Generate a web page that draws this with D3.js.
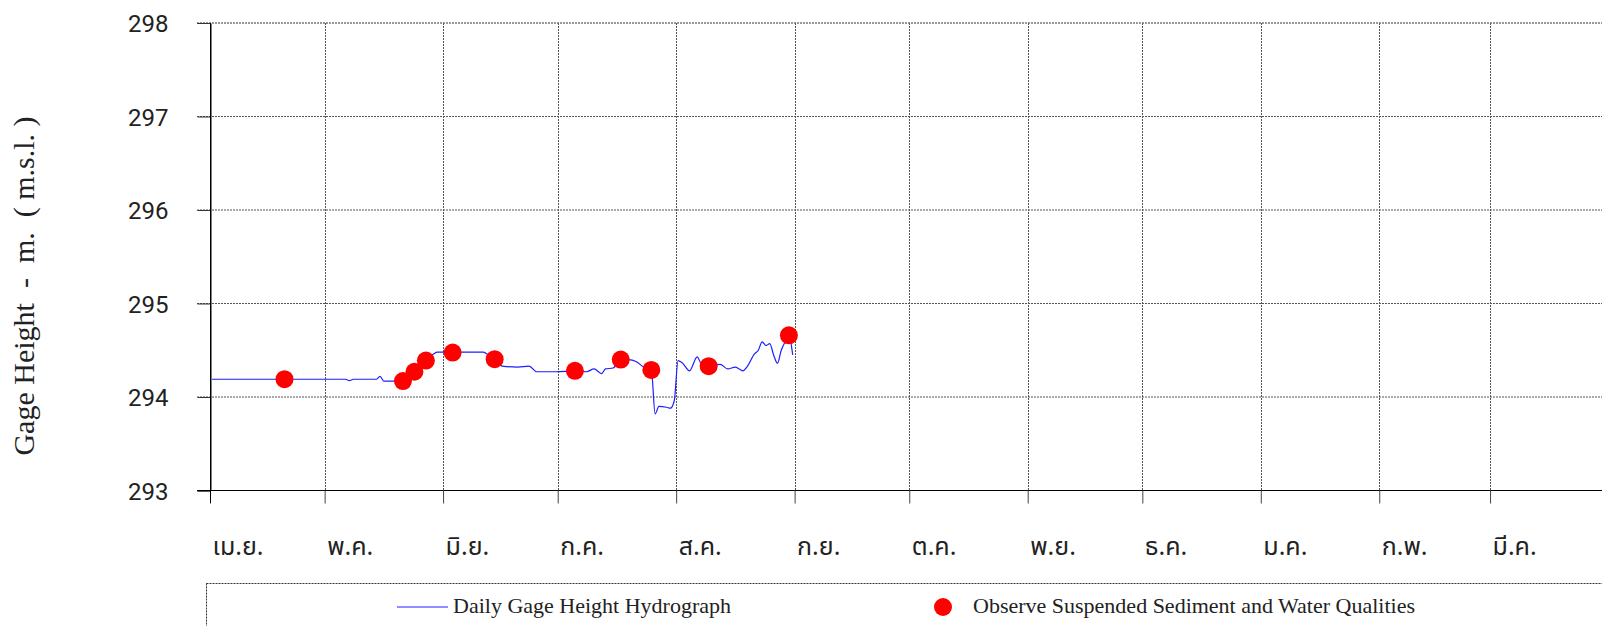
<!DOCTYPE html>
<html>
<head>
<meta charset="utf-8">
<script src="https://cdn.jsdelivr.net/npm/d3@7"></script>
<style>
  body { margin: 0; background: #fff; }
  svg { display: block; }
  .ytick { font-family: Roboto, "Liberation Sans", sans-serif; font-size: 24px; fill: #222; }
  .xtick { font-family: "Noto Sans Thai", "Tahoma", "Noto Sans", sans-serif; font-size: 25px; fill: #222; }
  .serif { font-family: "Liberation Serif", "DejaVu Serif", serif; fill: #222; }
</style>
</head>
<body>
<div class="chart"></div>
<script>
// month labels (hydrological year Apr - Mar)
var monthLabels = ["เม.ย.", "พ.ค.", "มิ.ย.", "ก.ค.", "ส.ค.", "ก.ย.", "ต.ค.", "พ.ย.", "ธ.ค.", "ม.ค.", "ก.พ.", "มี.ค."];
var yTicks = [293, 294, 295, 296, 297, 298];

// daily gage height (m.s.l.)
var lineDates = ["2023-04-01","2023-05-06","2023-05-07","2023-05-08","2023-05-14","2023-05-15","2023-05-16","2023-05-21",
  "2023-05-23","2023-05-24","2023-05-25","2023-05-26","2023-05-27","2023-05-28","2023-05-29","2023-05-30","2023-06-11",
  "2023-06-12","2023-06-14","2023-06-16","2023-06-20","2023-06-23","2023-06-25","2023-06-30","2023-07-05","2023-07-08",
  "2023-07-10","2023-07-12","2023-07-13","2023-07-15","2023-07-17","2023-07-19","2023-07-21","2023-07-23","2023-07-25",
  "2023-07-26","2023-07-27","2023-07-29","2023-07-30","2023-07-31","2023-08-01","2023-08-02","2023-08-04","2023-08-06",
  "2023-08-07","2023-08-09","2023-08-12","2023-08-14","2023-08-16","2023-08-17","2023-08-18","2023-08-19","2023-08-21",
  "2023-08-22","2023-08-23","2023-08-24","2023-08-25","2023-08-26","2023-08-27","2023-08-28","2023-08-29","2023-08-30",
  "2023-08-31"];
var lineValues = [294.19,294.19,294.175,294.19,294.19,294.22,294.17,294.17,
  294.22,294.27,294.31,294.35,294.39,294.43,294.46,294.48,294.48,
  294.46,294.41,294.33,294.32,294.33,294.27,294.27,294.28,294.27,
  294.30,294.25,294.30,294.31,294.40,294.40,294.38,294.32,294.29,
  293.82,293.90,293.89,293.88,293.96,294.39,294.37,294.28,294.43,
  294.36,294.33,294.35,294.30,294.32,294.30,294.28,294.32,294.46,
  294.50,294.59,294.55,294.57,294.45,294.36,294.50,294.59,294.66,
  294.45];

// observed suspended sediment / water quality samples
var dotDates = ["2023-04-20","2023-05-21","2023-05-24","2023-05-27","2023-06-03","2023-06-14","2023-07-05","2023-07-17","2023-07-25","2023-08-09","2023-08-30"];
var dotValues = [294.19,294.17,294.27,294.39,294.475,294.405,294.28,294.40,294.29,294.33,294.66];

var width = 1602, height = 626;
var parse = d3.timeParse("%Y-%m-%d");
var noon = function(s) { return d3.timeHour.offset(parse(s), 12); };

var svg = d3.select(".chart").append("svg")
  .attr("width", width)
  .attr("height", height);

var x = d3.scaleTime()
  .domain([parse("2023-04-01"), parse("2024-04-01")])
  .range([210, 1608.5]);
var y = d3.scaleLinear()
  .domain([293, 298])
  .range([490.5, 23]);

var monthStarts = d3.timeMonth.range(parse("2023-04-01"), parse("2024-04-01"));

/************* grid ***************/
svg.append("g").selectAll("line")
  .data(yTicks.filter(function(d){ return d > 293; }))
  .enter().append("line")
    .attr("x1", 197).attr("x2", width)
    .attr("y1", d => y(d)).attr("y2", d => y(d))
    .attr("stroke", d => d == 298 ? "#333" : "#555")
    .attr("stroke-dasharray", "2,1");

svg.append("g").selectAll("line")
  .data(monthStarts.slice(1))
  .enter().append("line")
    .attr("x1", d => Math.round(x(d)) + 0.5).attr("x2", d => Math.round(x(d)) + 0.5)
    .attr("y1", y(298)).attr("y2", y(293))
    .attr("stroke", "#555")
    .attr("stroke-dasharray", "2,1");

/************* axes ***************/
var yAxis = d3.axisLeft(y).tickValues(yTicks).tickSize(13).tickFormat(d3.format("d"));
var yg = svg.append("g").attr("transform", "translate(210.5,0)").call(yAxis);
yg.select(".domain").attr("stroke", "#000");
yg.selectAll(".tick line").attr("stroke", "#333");
yg.selectAll("text").attr("class", "ytick").attr("x", -42).attr("dy", "0.36em").attr("font-size", null).attr("font-family", null);

var xAxis = d3.axisBottom(x).tickValues(monthStarts).tickSize(13).tickFormat((d, i) => monthLabels[i]);
var xg = svg.append("g").attr("transform", "translate(0,490.5)").call(xAxis);
xg.select(".domain").attr("stroke", "#000").attr("d", "M197,0H" + width);
xg.selectAll(".tick line").attr("stroke", "#444");
xg.selectAll("text").attr("class", "xtick").attr("text-anchor", "start").attr("x", 2).attr("y", 64).attr("dy", null)
  .attr("font-size", null).attr("font-family", null);

svg.append("line")
  .attr("x1", 210.5).attr("x2", 210.5).attr("y1", 23).attr("y2", 503)
  .attr("stroke", "#000");

/************* series ***************/
var line = d3.line()
  .x(function(d, i){ return x(noon(lineDates[i])); })
  .y(function(d){ return y(d); })
  .curve(d3.curveMonotoneX);

svg.append("path")
  .datum(lineValues)
  .attr("fill", "none")
  .attr("stroke", "#1e1eff")
  .attr("stroke-width", 1.2)
  .attr("d", line);

svg.append("g").selectAll("circle")
  .data(dotValues)
  .enter().append("circle")
    .attr("cx", (d, i) => x(noon(dotDates[i])))
    .attr("cy", d => y(d))
    .attr("r", 9)
    .attr("fill", "#ff0000");

/************* y title ***************/
svg.append("text")
  .attr("class", "serif")
  .attr("transform", "translate(34,286) rotate(-90)")
  .attr("text-anchor", "middle")
  .attr("font-size", 30)
  .style("white-space", "pre")
  .text("Gage Height  -  m.  ( m.s.l. )");

/************* legend ***************/
svg.append("rect")
  .attr("x", 206.5).attr("y", 583.5)
  .attr("width", 1500).attr("height", 100)
  .attr("fill", "none")
  .attr("stroke", "#333")
  .attr("stroke-dasharray", "2,1");

svg.append("line")
  .attr("x1", 397).attr("x2", 448).attr("y1", 607).attr("y2", 607)
  .attr("stroke", "#6a6aff").attr("stroke-width", 1.5);
svg.append("text").attr("class", "serif").attr("x", 453).attr("y", 613).attr("font-size", 22)
  .text("Daily Gage Height Hydrograph");

svg.append("circle").attr("cx", 943).attr("cy", 607).attr("r", 9).attr("fill", "#ff0000");
svg.append("text").attr("class", "serif").attr("x", 973).attr("y", 613).attr("font-size", 22)
  .text("Observe Suspended Sediment and Water Qualities");
</script>
</body>
</html>
